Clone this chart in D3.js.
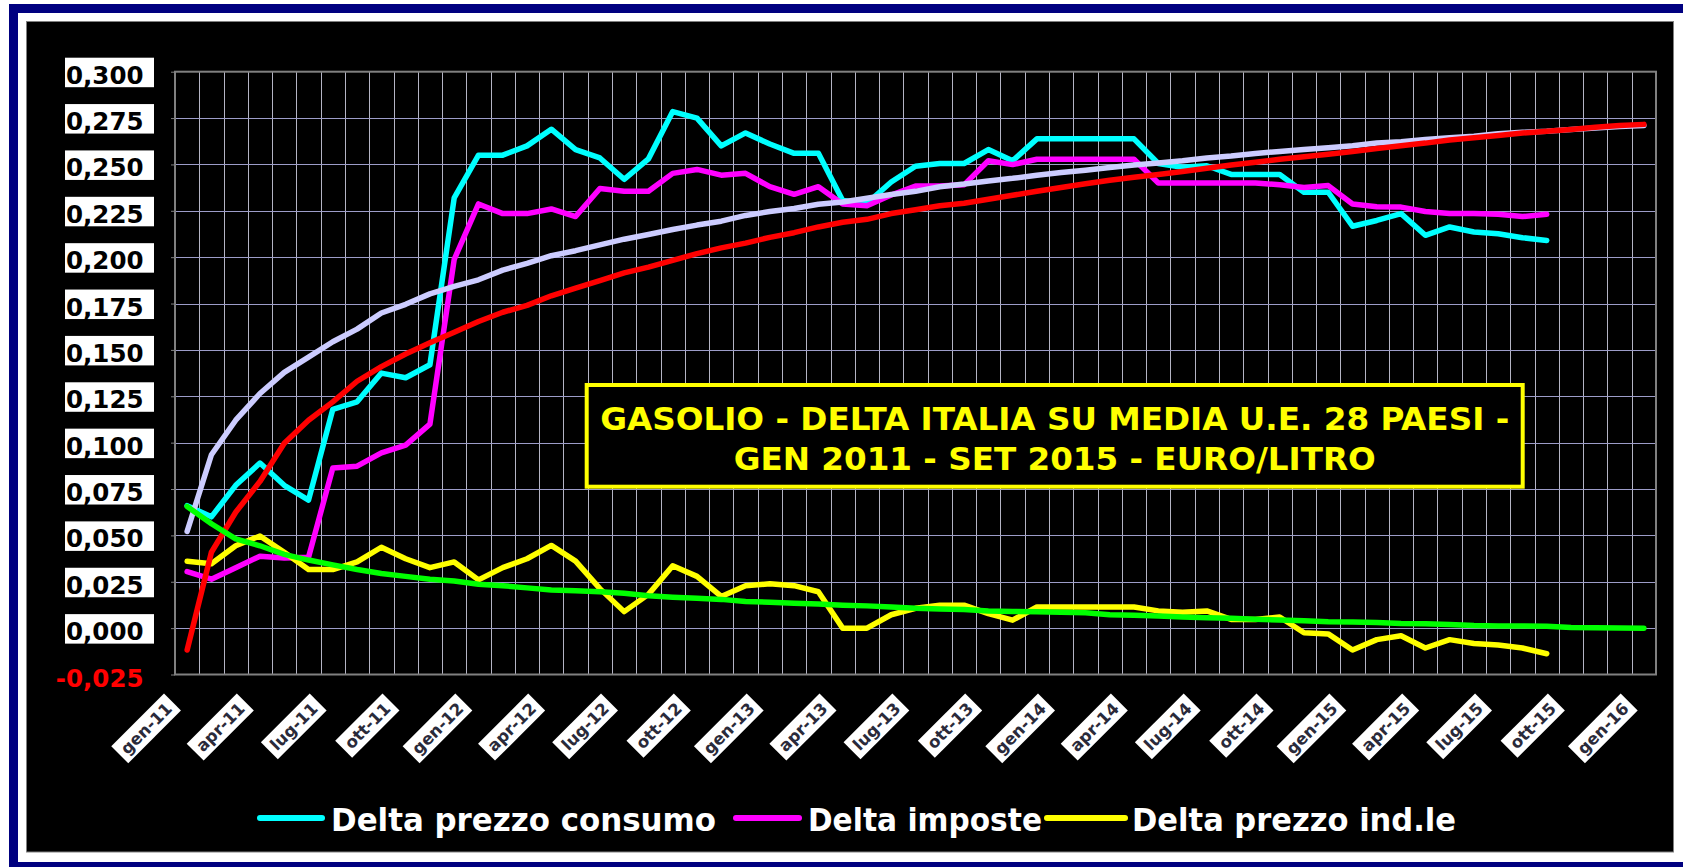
<!DOCTYPE html>
<html>
<head>
<meta charset="utf-8">
<script src="https://cdn.jsdelivr.net/npm/d3@7"></script>
<style>
  html, body { margin: 0; padding: 0; background: #fff; }
  svg { display: block; }
</style>
</head>
<body>
<div class="chart"></div>
<script>
/*
 * Data: monthly categories, gen-11 ... gen-16
 */
const months = [
  'gen-11', 'feb-11', 'mar-11', 'apr-11', 'mag-11', 'giu-11', 'lug-11', 'ago-11', 'set-11', 'ott-11', 'nov-11', 'dic-11',
  'gen-12', 'feb-12', 'mar-12', 'apr-12', 'mag-12', 'giu-12', 'lug-12', 'ago-12', 'set-12', 'ott-12', 'nov-12', 'dic-12',
  'gen-13', 'feb-13', 'mar-13', 'apr-13', 'mag-13', 'giu-13', 'lug-13', 'ago-13', 'set-13', 'ott-13', 'nov-13', 'dic-13',
  'gen-14', 'feb-14', 'mar-14', 'apr-14', 'mag-14', 'giu-14', 'lug-14', 'ago-14', 'set-14', 'ott-14', 'nov-14', 'dic-14',
  'gen-15', 'feb-15', 'mar-15', 'apr-15', 'mag-15', 'giu-15', 'lug-15', 'ago-15', 'set-15', 'ott-15', 'nov-15', 'dic-15',
  'gen-16'
];

// category labels shown on the axis
const tickMonths = [
  'gen-11', 'apr-11', 'lug-11', 'ott-11', 'gen-12', 'apr-12', 'lug-12', 'ott-12', 'gen-13', 'apr-13', 'lug-13',
  'ott-13', 'gen-14', 'apr-14', 'lug-14', 'ott-14', 'gen-15', 'apr-15', 'lug-15', 'ott-15', 'gen-16'
];

const yTicks = [-0.025, 0, 0.025, 0.05, 0.075, 0.1, 0.125, 0.15, 0.175, 0.2, 0.225, 0.25, 0.275, 0.3];

// Delta prezzo consumo (gen-11 .. set-15)
const deltaConsumo = [
  0.066, 0.060, 0.077, 0.089, 0.077, 0.069, 0.118, 0.122, 0.1375, 0.135,
  0.142, 0.232, 0.255, 0.255, 0.260, 0.269, 0.258, 0.2535, 0.242, 0.253,
  0.2785, 0.275, 0.260, 0.267, 0.261, 0.256, 0.256, 0.2305, 0.229, 0.2405,
  0.249, 0.2505, 0.2505, 0.258, 0.252, 0.2638, 0.2638, 0.2638, 0.2638, 0.2638,
  0.2505, 0.2485, 0.2493, 0.2446, 0.2446, 0.2446, 0.235, 0.235, 0.2167, 0.2198,
  0.2235, 0.2118, 0.2163, 0.2136, 0.2126, 0.2105, 0.209
];

// Delta imposte
const deltaImposte = [
  0.0305, 0.0264, 0.0326, 0.0388, 0.0378, 0.0382, 0.0863, 0.0873, 0.0945, 0.0987,
  0.110, 0.1988, 0.2287, 0.2235, 0.2235, 0.226, 0.2219, 0.237, 0.2355, 0.2355,
  0.2452, 0.2473, 0.2442, 0.2452, 0.238, 0.2339, 0.238, 0.2287, 0.2277, 0.2335,
  0.2384, 0.2384, 0.239, 0.252, 0.2499, 0.2528, 0.2528, 0.2528, 0.2528, 0.2528,
  0.240, 0.240, 0.240, 0.240, 0.240, 0.239, 0.2376, 0.2386, 0.2287, 0.2272,
  0.227, 0.2246, 0.2235, 0.2235, 0.2231, 0.2219, 0.2231
];

// Delta prezzo ind.le
const deltaIndustriale = [
  0.0361, 0.0347, 0.0444, 0.0497, 0.0409, 0.0316, 0.0316, 0.0357, 0.0436, 0.0374,
  0.0326, 0.0357, 0.026, 0.0326, 0.0374, 0.0446, 0.0361, 0.0213, 0.0089, 0.0182,
  0.0336, 0.0279, 0.0171, 0.0229, 0.0239, 0.0229, 0.0196, 0.000, 0.000, 0.0072,
  0.0107, 0.0124, 0.0124, 0.0078, 0.0043, 0.0114, 0.0114, 0.0114, 0.0114, 0.0114,
  0.0093, 0.0085, 0.0093, 0.0047, 0.0047, 0.006, -0.0025, -0.0031, -0.0118, -0.0062,
  -0.0041, -0.0107, -0.0062, -0.0083, -0.0091, -0.0107, -0.0138
];

// trend lines as drawn (gen-11 .. gen-16)
const trendConsumo = [
  0.0522, 0.0935, 0.1121, 0.1265, 0.1379, 0.1461, 0.1544, 0.1612, 0.1699, 0.1746,
  0.1802, 0.1843, 0.1878, 0.193, 0.1967, 0.2008, 0.2035, 0.2066, 0.2097, 0.2122,
  0.2149, 0.2173, 0.2194, 0.2225, 0.2246, 0.2262, 0.2285, 0.2297, 0.2318, 0.2338,
  0.2355, 0.238, 0.2394, 0.2411, 0.2425, 0.2442, 0.2456, 0.2469, 0.2483, 0.2497,
  0.2508, 0.252, 0.2535, 0.2545, 0.2559, 0.257, 0.258, 0.259, 0.2601, 0.2615,
  0.2623, 0.2634, 0.2644, 0.2652, 0.2665, 0.2673, 0.2679, 0.2689, 0.2696, 0.2704,
  0.271
];

const trendImposte = [
  -0.0118, 0.0409, 0.0625, 0.0791, 0.0997, 0.1121, 0.122, 0.1331, 0.141, 0.1478,
  0.1538, 0.1595, 0.1653, 0.1703, 0.174, 0.1792, 0.1833, 0.1874, 0.1915, 0.1946,
  0.1983, 0.2019, 0.205, 0.2076, 0.2107, 0.2132, 0.2163, 0.2188, 0.2204, 0.2235,
  0.2256, 0.2277, 0.2291, 0.2312, 0.2334, 0.2355, 0.2376, 0.2396, 0.2415, 0.2431,
  0.2446, 0.2462, 0.2479, 0.2497, 0.2512, 0.2528, 0.2541, 0.2555, 0.257, 0.2586,
  0.2601, 0.2615, 0.2632, 0.2644, 0.2656, 0.2669, 0.2679, 0.2689, 0.27, 0.271,
  0.2716
];

const trendIndustriale = [
  0.0656, 0.0563, 0.0481, 0.0444, 0.0398, 0.0367, 0.0341, 0.0316, 0.0295, 0.0279,
  0.0264, 0.0254, 0.0237, 0.0229, 0.0217, 0.0206, 0.0202, 0.0196, 0.0188, 0.0175,
  0.0167, 0.0161, 0.0155, 0.0144, 0.014, 0.0134, 0.013, 0.0124, 0.012, 0.0114,
  0.0107, 0.0103, 0.0101, 0.0092, 0.009, 0.0088, 0.0086, 0.0083, 0.0072, 0.0069,
  0.0066, 0.006, 0.0056, 0.0053, 0.0048, 0.0044, 0.004, 0.0035, 0.0033, 0.003,
  0.0025, 0.0023, 0.0019, 0.0014, 0.0012, 0.0011, 0.001, 0.0004, 0.0002, 0.0001,
  0
];

const seriesNames = ['Delta prezzo consumo', 'Delta imposte', 'Delta prezzo ind.le'];
const titleLines = ['GASOLIO - DELTA ITALIA SU MEDIA U.E. 28 PAESI -', 'GEN 2011 - SET 2015 - EURO/LITRO'];

/*
 * Layout
 */
const width = 1683;
const height = 867;
const plot = { left: 175, right: 1656, top: 71.7, bottom: 674.5 };
const boldFont = "'DejaVu Sans', Verdana, sans-serif";
const narrowFont = "'DejaVu Sans Condensed', 'DejaVu Sans', sans-serif";

const svg = d3.select('.chart')
  .append('svg')
  .attr('width', width)
  .attr('height', height);

// outer frame: navy border, white mat, black chart area
svg.append('rect').attr('x', 9).attr('y', 4).attr('width', 1700).attr('height', 900).attr('fill', '#000080');
svg.append('rect').attr('x', 18).attr('y', 13).attr('width', 1700).attr('height', 849).attr('fill', '#fff');
svg.append('rect')
  .attr('x', 26.5).attr('y', 21.5)
  .attr('width', 1647).attr('height', 830.5)
  .attr('fill', '#000')
  .attr('stroke', '#808080');

// scales
const x = d3.scaleBand().domain(months).range([plot.left, plot.right]);
const xc = (m) => x(m) + x.bandwidth() / 2;
const y = d3.scaleLinear().domain([-0.025, 0.3]).range([plot.bottom, plot.top]);

// italian number format (comma decimal)
const fmt = d3.formatLocale({
  decimal: ',', thousands: '.', grouping: [3], currency: ['', ' €'], minus: '-'
}).format('.3f');

// ****************** grid ***************************

const grid = svg.append('g').attr('class', 'grid');

grid.selectAll('line.v')
  .data(months.slice(1))
  .enter().append('line')
  .attr('class', 'v')
  .attr('x1', (d) => Math.round(x(d)) + 0.5)
  .attr('x2', (d) => Math.round(x(d)) + 0.5)
  .attr('y1', plot.top)
  .attr('y2', plot.bottom)
  .attr('stroke', '#b4b4c4')
  .attr('stroke-width', 1);

grid.selectAll('line.h')
  .data(yTicks.slice(1, -1))
  .enter().append('line')
  .attr('class', 'h')
  .attr('x1', plot.left)
  .attr('x2', plot.right)
  .attr('y1', (d) => Math.round(y(d)) + 0.5)
  .attr('y2', (d) => Math.round(y(d)) + 0.5)
  .attr('stroke', '#9c9cc8')
  .attr('stroke-width', 1);

svg.append('rect')
  .attr('x', plot.left)
  .attr('y', plot.top)
  .attr('width', plot.right - plot.left)
  .attr('height', plot.bottom - plot.top)
  .attr('fill', 'none')
  .attr('stroke', '#808080')
  .attr('stroke-width', 2);

// ****************** y axis ***************************

const yAxis = svg.append('g')
  .attr('transform', `translate(${plot.left},0)`)
  .call(d3.axisLeft(y).tickValues(yTicks).tickFormat(fmt).tickSize(4).tickPadding(27.5));

yAxis.select('.domain').remove();
yAxis.selectAll('.tick line').attr('stroke', '#808080');
yAxis.selectAll('.tick text')
  .attr('dy', '0.47em')
  .style('font-family', boldFont)
  .style('font-weight', 'bold')
  .style('font-size', '24.5px')
  .attr('fill', (d) => (d < 0 ? '#ff0000' : '#000'));

// white boxes behind non-negative labels
yAxis.selectAll('.tick')
  .filter((d) => d >= 0)
  .insert('rect', 'text')
  .attr('x', -110)
  .attr('y', -14.5)
  .attr('width', 89)
  .attr('height', 29.5)
  .attr('fill', '#fff');

// ****************** x axis labels ***************************

const xAxis = svg.append('g')
  .attr('transform', `translate(0,${plot.bottom})`)
  .call(d3.axisBottom(x).tickValues(tickMonths).tickSize(0));

xAxis.select('.domain').remove();

xAxis.selectAll('.tick').each(function() {
  const tick = d3.select(this);
  const rot = `translate(${x.bandwidth() / 2 - 26.8},27.5) rotate(-45)`;
  const label = tick.select('text')
    .attr('x', -5)
    .attr('y', 0)
    .attr('dy', '0.36em')
    .attr('text-anchor', 'end')
    .attr('transform', rot)
    .style('font-family', boldFont)
    .style('font-weight', 'bold')
    .style('font-size', '16.5px')
    .attr('fill', '#2a2a3a');
  const w = label.node().getComputedTextLength();
  tick.insert('rect', 'text')
    .attr('x', -w - 10)
    .attr('y', -12)
    .attr('width', w + 10)
    .attr('height', 24)
    .attr('transform', rot)
    .attr('fill', '#fff');
});

// ****************** lines ***************************

const line = d3.line()
  .x((d, k) => xc(months[k]))
  .y((d) => y(d));

const lines = [
  { values: deltaConsumo, color: '#00ffff' },
  { values: deltaImposte, color: '#ff00ff' },
  { values: deltaIndustriale, color: '#ffff00' },
  { values: trendConsumo, color: '#ccccff' },
  { values: trendImposte, color: '#ff0000' },
  { values: trendIndustriale, color: '#00ff00' }
];

svg.append('g')
  .selectAll('path.series')
  .data(lines)
  .enter().append('path')
  .attr('class', 'series')
  .attr('d', (d) => line(d.values))
  .attr('fill', 'none')
  .attr('stroke', (d) => d.color)
  .attr('stroke-width', 5.5)
  .attr('stroke-linejoin', 'round')
  .attr('stroke-linecap', 'round');

// ****************** title box ***************************

const title = svg.append('g');
title.append('rect')
  .attr('x', 586.7)
  .attr('y', 385)
  .attr('width', 936)
  .attr('height', 101.7)
  .attr('fill', '#000')
  .attr('stroke', '#ffff00')
  .attr('stroke-width', 4);

title.selectAll('text')
  .data(titleLines)
  .enter().append('text')
  .attr('x', 1054.7)
  .attr('y', (d, k) => 430 + k * 40)
  .attr('text-anchor', 'middle')
  .attr('textLength', (d, k) => [909, 642][k])
  .attr('lengthAdjust', 'spacingAndGlyphs')
  .style('font-family', narrowFont)
  .style('font-weight', 'bold')
  .style('font-size', '31.5px')
  .attr('fill', '#ffff00')
  .text((d) => d);

// ****************** legend ***************************

const legendItems = [
  { name: seriesNames[0], color: '#00ffff', x0: 260, x1: 322, tx: 331, tw: 385 },
  { name: seriesNames[1], color: '#ff00ff', x0: 736, x1: 799, tx: 808, tw: 234 },
  { name: seriesNames[2], color: '#ffff00', x0: 1047, x1: 1125, tx: 1132, tw: 324 }
];

const legend = svg.append('g').attr('class', 'legend');
const item = legend.selectAll('g')
  .data(legendItems)
  .enter().append('g');

item.append('line')
  .attr('x1', (d) => d.x0)
  .attr('x2', (d) => d.x1)
  .attr('y1', 818)
  .attr('y2', 818)
  .attr('stroke', (d) => d.color)
  .attr('stroke-width', 6)
  .attr('stroke-linecap', 'round');

item.append('text')
  .attr('x', (d) => d.tx)
  .attr('y', 831)
  .attr('textLength', (d) => d.tw)
  .attr('lengthAdjust', 'spacingAndGlyphs')
  .style('font-family', narrowFont)
  .style('font-weight', 'bold')
  .style('font-size', '31.5px')
  .attr('fill', '#fff')
  .text((d) => d.name);
</script>
</body>
</html>
